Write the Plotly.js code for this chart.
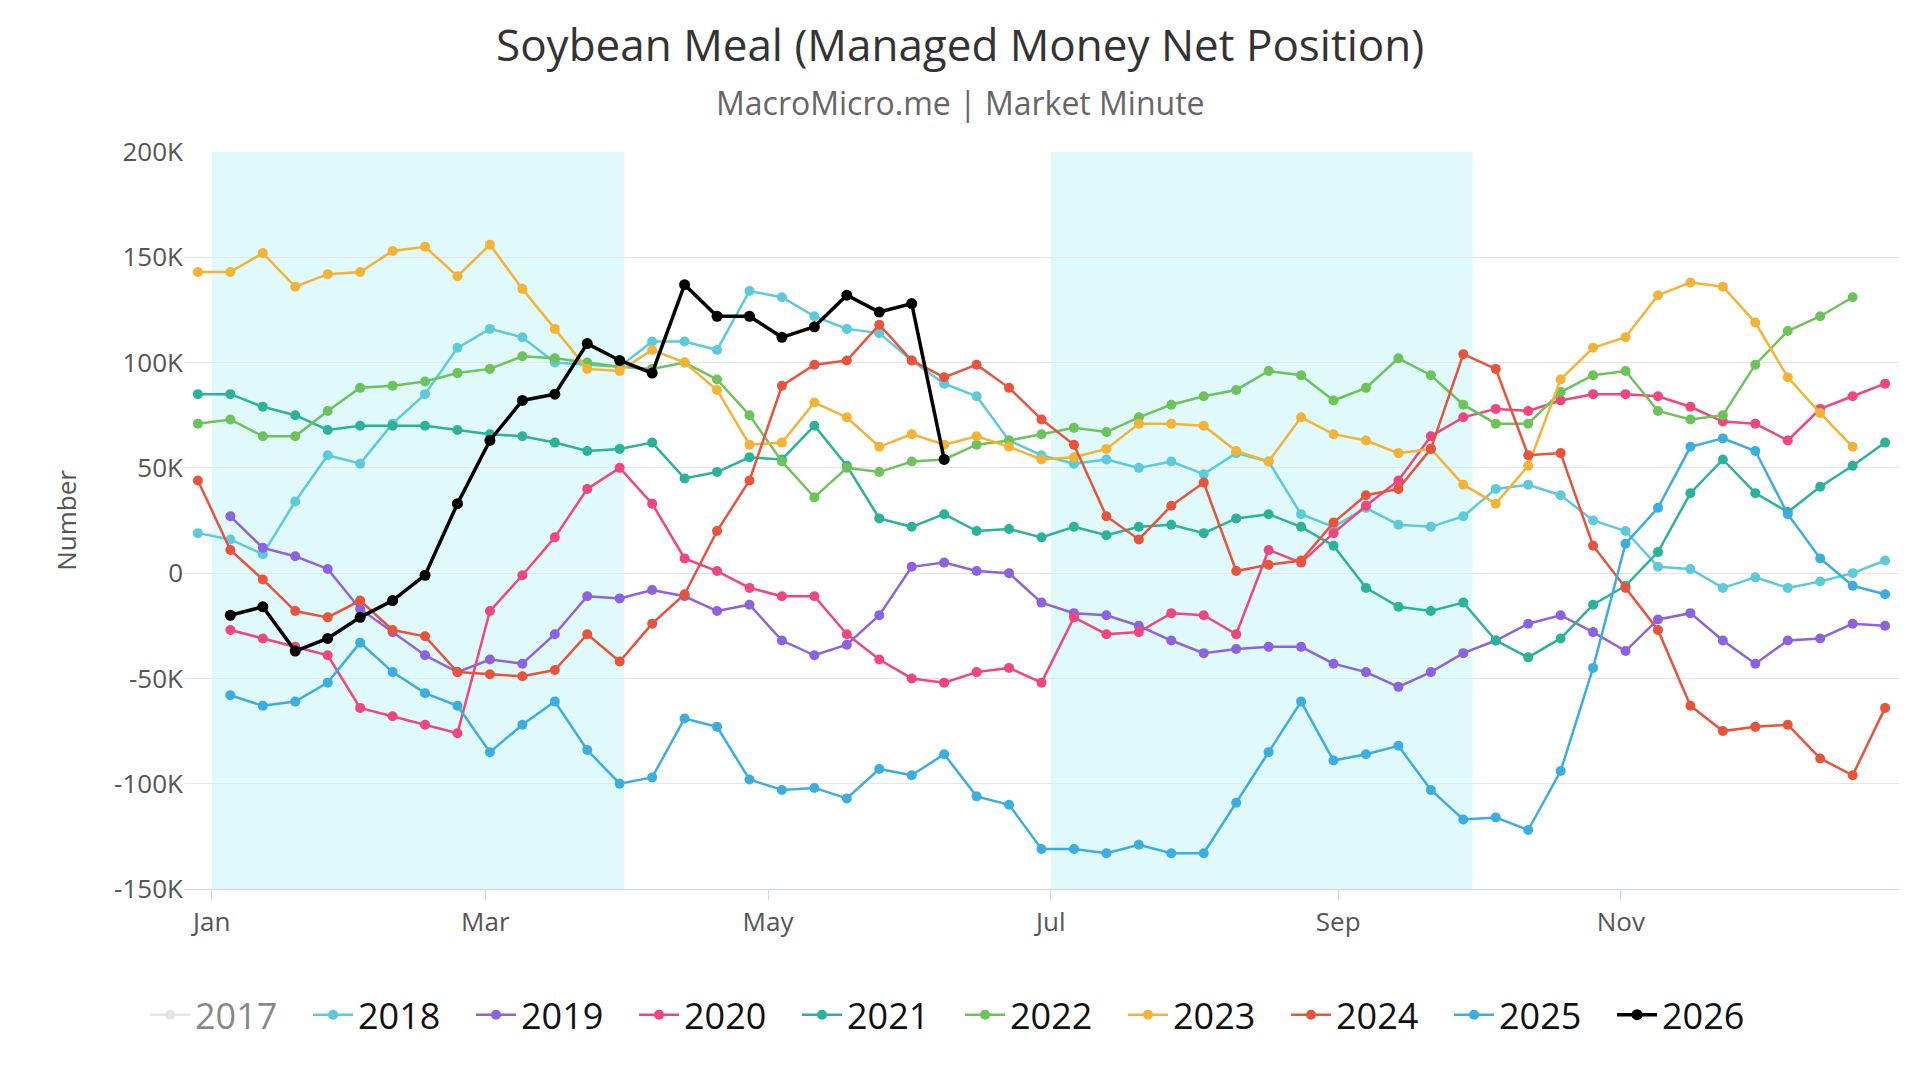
<!DOCTYPE html>
<html>
<head>
<meta charset="utf-8">
<script src="https://cdn.plot.ly/plotly-3.0.1.min.js"></script>
<style>html,body{margin:0;padding:0;background:#fff}#chart{width:1920px;height:1080px}</style>
</head>
<body>
<div id="chart"></div>
<script>
// weekly net positions (thousands of contracts), first week date given per year, plotted on a common calendar
const years = ["2017", "2018", "2019", "2020", "2021", "2022", "2023", "2024", "2025", "2026"];
const colors = ["#cccccc", "#5ccbd9", "#8c62e0", "#f2457d", "#2bb39a", "#6cc35a", "#f5b335", "#e9533b", "#3aaedf", "#000000"];
const startDates = ["2025-01-05", "2024-12-29", "2025-01-05", "2025-01-05", "2024-12-29", "2024-12-29", "2024-12-29", "2024-12-29", "2025-01-05", "2025-01-05"];

const v2017 = [0];
const v2018 = [19,16,9,34,56,52,71,85,107,116,112,100,99,98,110,110,106,134,131,122,116,114,101,90,84,63,56,52,54,50,53,47,57,53,28,22,31,23,22,27,40,42,37,25,20,3,2,-7,-2,-7,-4,0,6];
const v2019 = [27,12,8,2,-17,-28,-39,-47,-41,-43,-29,-11,-12,-8,-11,-18,-15,-32,-39,-34,-20,3,5,1,0,-14,-19,-20,-25,-32,-38,-36,-35,-35,-43,-47,-54,-47,-38,-32,-24,-20,-28,-37,-22,-19,-32,-43,-32,-31,-24,-25];
const v2020 = [-27,-31,-35,-39,-64,-68,-72,-76,-18,-1,17,40,50,33,7,1,-7,-11,-11,-29,-41,-50,-52,-47,-45,-52,-21,-29,-28,-19,-20,-29,11,5,19,32,44,65,74,78,77,82,85,85,84,79,72,71,63,78,84,90];
const v2021 = [85,85,79,75,68,70,70,70,68,66,65,62,58,59,62,45,48,55,54,70,51,26,22,28,20,21,17,22,18,22,23,19,26,28,22,13,-7,-16,-18,-14,-32,-40,-31,-15,-6,10,38,54,38,29,41,51,62];
const v2022 = [71,73,65,65,77,88,89,91,95,97,103,102,100,98,97,100,92,75,53,36,50,48,53,54,61,63,66,69,67,74,80,84,87,96,94,82,88,102,94,80,71,71,86,94,96,77,73,75,99,115,122,131];
const v2023 = [143,143,152,136,142,143,153,155,141,156,135,116,97,96,106,100,87,61,62,81,74,60,66,61,65,60,54,55,59,71,71,70,58,53,74,66,63,57,59,42,33,51,92,107,112,132,138,136,119,93,76,60];
const v2024 = [44,11,-3,-18,-21,-13,-27,-30,-47,-48,-49,-46,-29,-42,-24,-10,20,44,89,99,101,118,101,93,99,88,73,61,27,16,32,43,1,4,6,24,37,40,59,104,97,56,57,13,-7,-27,-63,-75,-73,-72,-88,-96,-64];
const v2025 = [-58,-63,-61,-52,-33,-47,-57,-63,-85,-72,-61,-84,-100,-97,-69,-73,-98,-103,-102,-107,-93,-96,-86,-106,-110,-131,-131,-133,-129,-133,-133,-109,-85,-61,-89,-86,-82,-103,-117,-116,-122,-94,-45,14,31,60,64,58,28,7,-6,-10];
const v2026 = [-20,-16,-37,-31,-21,-13,-1,33,63,82,85,109,101,95,137,122,122,112,117,132,124,128,54];
const values = [v2017, v2018, v2019, v2020, v2021, v2022, v2023, v2024, v2025, v2026];

const yTicks = [-150, -100, -50, 0, 50, 100, 150, 200];
const yTickText = ["-150K", "-100K", "-50K", "0", "50K", "100K", "150K", "200K"];

function weekDates(start, n) {
  const out = [];
  const d0 = new Date(start + "T00:00:00Z");
  for (let i = 0; i < n; i++) {
    const d = new Date(d0.getTime() + i * 7 * 86400000);
    out.push(d.toISOString().slice(0, 10));
  }
  return out;
}

let data = years.map((yr, i) => ({
  x: weekDates(startDates[i], values[i].length),
  y: values[i].map(v => v * 1000),
  name: yr,
  type: "scatter",
  mode: "lines+markers",
  line: {color: colors[i], width: i === 9 ? 3.5 : 2.5},
  marker: {color: colors[i], size: i === 9 ? 11 : 10},
  visible: i === 0 ? "legendonly" : true,
  hovertemplate: "%{x|%b %d}: %{y}",
}));

let layout = {
  width: 1920, height: 1080,
  margin: {l: 184, r: 21, t: 152, b: 191},
  font: {family: "Open Sans, Noto Sans, sans-serif", color: "#555"},
  annotations: [
    {text: "Soybean Meal (Managed Money Net Position)", xref: "paper", yref: "paper", x: 0.4525, y: 1, yshift: 108,
     showarrow: false, font: {size: 44, color: "#333"}, yanchor: "middle"},
    {text: "MacroMicro.me | Market Minute", xref: "paper", yref: "paper", x: 0.4525, y: 1, yshift: 50,
     showarrow: false, font: {size: 32, color: "#666"}, yanchor: "middle"},
  ],
  plot_bgcolor: "#fff",
  xaxis: {
    type: "date", range: ["2024-12-26", "2025-12-31"],
    dtick: "M2", tick0: "2025-01-01", tickformat: "%b",
    showgrid: false, showline: true, linecolor: "#ccd6eb",
    ticks: "outside", tickcolor: "#ccd6eb", ticklen: 10,
    tickfont: {size: 26, color: "#555"},
  },
  yaxis: {
    range: [-150000, 200000], tickvals: yTicks.map(v => v * 1000), ticktext: yTickText,
    gridcolor: "#e6e6e6", zeroline: false,
    tickfont: {size: 26, color: "#555"},
    title: {text: "Number", font: {size: 26, color: "#555"}, standoff: 30},
  },
  shapes: [
    {type: "rect", xref: "x", yref: "paper", x0: "2025-01-01", x1: "2025-03-31", y0: 0, y1: 1, fillcolor: "#e0f9fa", line: {width: 0}, layer: "below"},
    {type: "rect", xref: "x", yref: "paper", x0: "2025-07-01", x1: "2025-09-30", y0: 0, y1: 1, fillcolor: "#e0f9fa", line: {width: 0}, layer: "below"},
  ],
  showlegend: true,
  legend: {orientation: "h", x: 0.4525, xanchor: "center", y: -0.13, yanchor: "top", font: {size: 36, color: "#111"}, itemwidth: 40, entrywidth: 108},
};

Plotly.newPlot("chart", data, layout, {displaylogo: false, displayModeBar: false});
</script>
</body>
</html>
